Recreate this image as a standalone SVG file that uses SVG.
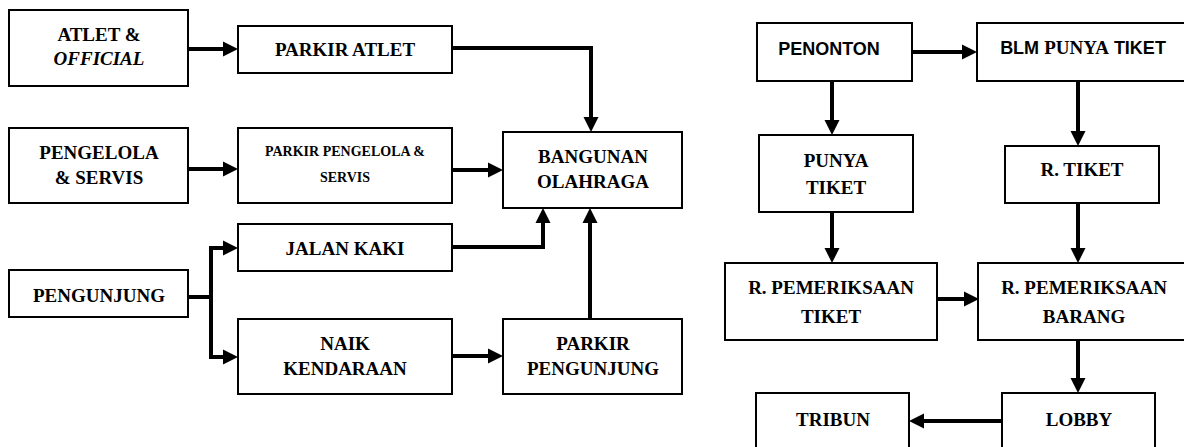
<svg xmlns="http://www.w3.org/2000/svg" width="1184" height="447" viewBox="0 0 1184 447">
<defs>
<marker id="ah" markerUnits="userSpaceOnUse" markerWidth="15" markerHeight="15" refX="0" refY="7.5" orient="auto" overflow="visible">
<path d="M0,0 L15,7.5 L0,15 z" fill="#000"/>
</marker>
<style>
.box{fill:#fff;stroke:#000;stroke-width:2}
.t{font-family:"Liberation Serif","Times New Roman",serif;font-weight:bold;font-size:19px;fill:#000;text-anchor:middle}
.s{font-family:"Liberation Sans",Arial,sans-serif;font-weight:bold;font-size:18px;fill:#000}
.sm{font-size:14px}
.c{fill:none;stroke:#000;stroke-width:4;stroke-linejoin:miter}
.a{marker-end:url(#ah)}
</style>
</defs>
<rect width="1184" height="447" fill="#fff"/>
<g id="connectors">
<path class="c a" d="M188,49 H223"/>
<path class="c a" d="M452,48 H591 V117"/>
<path class="c a" d="M188,169 H223"/>
<path class="c a" d="M452,170 H488"/>
<path class="c" d="M188,297 H211"/>
<path class="c a" d="M211,297 V248 H223"/>
<path class="c a" d="M211,297 V357 H223"/>
<path class="c a" d="M452,247 H543 V223"/>
<path class="c a" d="M452,356 H488"/>
<path class="c a" d="M590,319 V223"/>
<path class="c a" d="M912,52 H962"/>
<path class="c a" d="M832,81 V120"/>
<path class="c a" d="M1078,81 V131"/>
<path class="c a" d="M832,212 V248"/>
<path class="c a" d="M1078,203 V248"/>
<path class="c a" d="M937,299 H964"/>
<path class="c a" d="M1078,340 V378"/>
<path class="c a" d="M1002,421 H924"/>
</g>
<g id="atlet">
<rect class="box" x="9" y="10" width="179" height="76"/>
<text class="t" x="99" y="41">ATLET &amp;</text>
<text class="t" x="99" y="65" font-style="italic">OFFICIAL</text>
</g>
<g id="parkir-atlet">
<rect class="box" x="238" y="26" width="214" height="47"/>
<text class="t" x="345" y="56">PARKIR ATLET</text>
</g>
<g id="pengelola">
<rect class="box" x="9" y="128" width="179" height="75"/>
<text class="t" x="99" y="159">PENGELOLA</text>
<text class="t" x="99" y="184">&amp; SERVIS</text>
</g>
<g id="parkir-pengelola">
<rect class="box" x="238" y="128" width="214" height="75"/>
<text class="t sm" x="345" y="156">PARKIR PENGELOLA &amp;</text>
<text class="t sm" x="345" y="182">SERVIS</text>
</g>
<g id="bangunan">
<rect class="box" x="503" y="132" width="179" height="76"/>
<text class="t" x="593" y="163">BANGUNAN</text>
<text class="t" x="593" y="188">OLAHRAGA</text>
</g>
<g id="jalan-kaki">
<rect class="box" x="238" y="224" width="214" height="47"/>
<text class="t" x="345" y="255">JALAN KAKI</text>
</g>
<g id="pengunjung">
<rect class="box" x="9" y="270" width="179" height="47"/>
<text class="t" x="99" y="302">PENGUNJUNG</text>
</g>
<g id="naik-kendaraan">
<rect class="box" x="238" y="319" width="214" height="75"/>
<text class="t" x="345" y="350">NAIK</text>
<text class="t" x="345" y="375">KENDARAAN</text>
</g>
<g id="parkir-pengunjung">
<rect class="box" x="503" y="319" width="179" height="75"/>
<text class="t" x="593" y="350">PARKIR</text>
<text class="t" x="593" y="375">PENGUNJUNG</text>
</g>
<g id="penonton">
<rect class="box" x="757" y="23" width="155" height="58"/>
<text class="s" x="829" y="55" text-anchor="middle">PENONTON</text>
</g>
<g id="blm-punya-tiket">
<rect class="box" x="977" y="23" width="220" height="58"/>
<text class="s" x="1083" y="54" text-anchor="middle">BLM <tspan font-family="'Liberation Serif','Times New Roman',serif" font-size="19">PUNYA</tspan> TIKET</text>
</g>
<g id="punya-tiket">
<rect class="box" x="759" y="135" width="154" height="77"/>
<text class="t" x="836" y="167">PUNYA</text>
<text class="t" x="836" y="194">TIKET</text>
</g>
<g id="r-tiket">
<rect class="box" x="1005" y="146" width="154" height="57"/>
<text class="t" x="1082" y="176">R. TIKET</text>
</g>
<g id="r-pemeriksaan-tiket">
<rect class="box" x="725" y="263" width="212" height="77"/>
<text class="t" x="831" y="294">R. PEMERIKSAAN</text>
<text class="t" x="831" y="323">TIKET</text>
</g>
<g id="r-pemeriksaan-barang">
<rect class="box" x="978" y="263" width="220" height="77"/>
<text class="t" x="1084" y="294">R. PEMERIKSAAN</text>
<text class="t" x="1084" y="323">BARANG</text>
</g>
<g id="tribun">
<rect class="box" x="756" y="393" width="153" height="70"/>
<text class="t" x="833" y="426">TRIBUN</text>
</g>
<g id="lobby">
<rect class="box" x="1002" y="393" width="153" height="70"/>
<text class="t" x="1079" y="426">LOBBY</text>
</g>
</svg>
